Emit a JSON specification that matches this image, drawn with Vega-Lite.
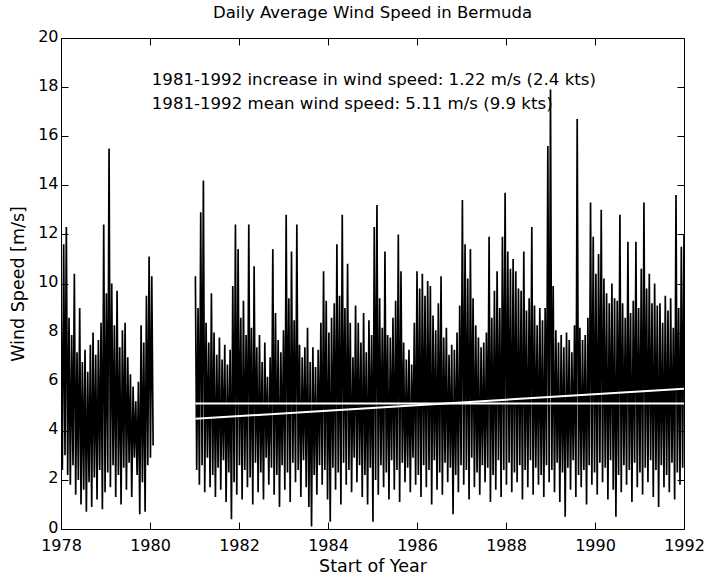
{
"$schema": "https://vega.github.io/schema/vega-lite/v6.json",
"width": 623, "height": 491,
"autosize": {"type": "none"},
"padding": {"left": 61, "top": 38, "right": 25, "bottom": 51},
"background": "white",
"title": {"text": "Daily Average Wind Speed in Bermuda", "font": "DejaVu Sans", "fontSize": 16.5, "fontWeight": "normal", "color": "black", "offset": 7},
"config": {
  "view": {"stroke": "black", "strokeWidth": 1},
  "axis": {"grid": false, "domain": false, "tickColor": "black", "tickSize": -7, "labelFont": "DejaVu Sans", "labelFontSize": 16, "labelColor": "black", "labelFlush": false, "titleFont": "DejaVu Sans", "titleFontSize": 17.5, "titleFontWeight": "normal", "titleColor": "black"}
},
"datasets": {
"pre": [
{"t":1978.00,"v":9.5},{"t":1978.03,"v":2.4},{"t":1978.06,"v":11.6},{"t":1978.09,"v":3.0},{"t":1978.12,"v":12.3},{"t":1978.15,"v":2.2},{"t":1978.18,"v":8.6},{"t":1978.21,"v":1.8},{"t":1978.24,"v":7.9},{"t":1978.27,"v":2.6},
{"t":1978.30,"v":10.4},{"t":1978.33,"v":1.4},{"t":1978.36,"v":7.2},{"t":1978.39,"v":2.0},{"t":1978.42,"v":9.0},{"t":1978.45,"v":1.0},{"t":1978.48,"v":6.8},{"t":1978.51,"v":1.6},{"t":1978.54,"v":7.3},{"t":1978.57,"v":0.7},
{"t":1978.60,"v":6.4},{"t":1978.63,"v":1.9},{"t":1978.66,"v":7.5},{"t":1978.69,"v":0.9},{"t":1978.72,"v":8.0},{"t":1978.75,"v":2.1},{"t":1978.78,"v":7.1},{"t":1978.81,"v":1.2},{"t":1978.84,"v":7.7},{"t":1978.87,"v":2.4},
{"t":1978.90,"v":8.4},{"t":1978.93,"v":0.8},{"t":1978.96,"v":12.4},{"t":1978.99,"v":1.5},{"t":1979.02,"v":9.6},{"t":1979.05,"v":2.3},{"t":1979.08,"v":15.5},{"t":1979.11,"v":1.7},{"t":1979.14,"v":10.0},{"t":1979.17,"v":2.6},
{"t":1979.20,"v":8.3},{"t":1979.23,"v":1.3},{"t":1979.26,"v":9.7},{"t":1979.29,"v":2.2},{"t":1979.32,"v":7.4},{"t":1979.35,"v":1.0},{"t":1979.38,"v":8.1},{"t":1979.41,"v":2.5},{"t":1979.44,"v":8.4},{"t":1979.47,"v":1.6},
{"t":1979.50,"v":7.0},{"t":1979.53,"v":2.7},{"t":1979.56,"v":6.3},{"t":1979.59,"v":1.3},{"t":1979.62,"v":5.8},{"t":1979.65,"v":2.9},{"t":1979.68,"v":5.2},{"t":1979.71,"v":2.2},{"t":1979.74,"v":6.0},{"t":1979.77,"v":0.6},
{"t":1979.80,"v":8.3},{"t":1979.83,"v":1.9},{"t":1979.86,"v":7.6},{"t":1979.89,"v":0.7},{"t":1979.92,"v":9.5},{"t":1979.95,"v":2.6},{"t":1979.98,"v":11.1},{"t":1980.01,"v":2.9},{"t":1980.04,"v":10.3},{"t":1980.07,"v":3.4}
],
"post": [
{"t":1981.02,"v":10.3},{"t":1981.05,"v":2.4},{"t":1981.08,"v":9.0},{"t":1981.11,"v":1.8},{"t":1981.14,"v":12.9},{"t":1981.17,"v":2.6},{"t":1981.20,"v":14.2},{"t":1981.23,"v":1.5},{"t":1981.26,"v":8.4},{"t":1981.29,"v":2.9},
{"t":1981.32,"v":7.6},{"t":1981.35,"v":1.7},{"t":1981.38,"v":9.6},{"t":1981.41,"v":2.2},{"t":1981.44,"v":8.0},{"t":1981.47,"v":1.3},{"t":1981.50,"v":7.1},{"t":1981.53,"v":2.5},{"t":1981.56,"v":7.8},{"t":1981.59,"v":1.6},
{"t":1981.62,"v":6.9},{"t":1981.65,"v":2.8},{"t":1981.68,"v":7.5},{"t":1981.71,"v":1.1},{"t":1981.74,"v":6.7},{"t":1981.77,"v":2.3},{"t":1981.80,"v":7.3},{"t":1981.83,"v":0.4},{"t":1981.86,"v":9.9},{"t":1981.89,"v":1.9},
{"t":1981.92,"v":12.4},{"t":1981.95,"v":1.4},{"t":1981.98,"v":11.4},{"t":1982.01,"v":2.6},{"t":1982.04,"v":8.6},{"t":1982.07,"v":1.2},{"t":1982.10,"v":9.3},{"t":1982.13,"v":2.4},{"t":1982.16,"v":7.9},{"t":1982.19,"v":1.7},
{"t":1982.22,"v":12.4},{"t":1982.25,"v":2.1},{"t":1982.28,"v":8.2},{"t":1982.31,"v":1.0},{"t":1982.34,"v":10.7},{"t":1982.37,"v":2.7},{"t":1982.40,"v":7.4},{"t":1982.43,"v":1.5},{"t":1982.46,"v":7.9},{"t":1982.49,"v":2.3},
{"t":1982.52,"v":6.8},{"t":1982.55,"v":1.2},{"t":1982.58,"v":7.6},{"t":1982.61,"v":2.9},{"t":1982.64,"v":6.2},{"t":1982.67,"v":1.8},{"t":1982.70,"v":7.0},{"t":1982.73,"v":2.5},{"t":1982.76,"v":11.4},{"t":1982.79,"v":1.4},
{"t":1982.82,"v":8.8},{"t":1982.85,"v":2.2},{"t":1982.88,"v":7.7},{"t":1982.91,"v":0.9},{"t":1982.94,"v":7.2},{"t":1982.97,"v":2.6},{"t":1983.00,"v":8.1},{"t":1983.03,"v":1.6},{"t":1983.06,"v":12.8},{"t":1983.09,"v":2.3},
{"t":1983.12,"v":9.4},{"t":1983.15,"v":1.1},{"t":1983.18,"v":11.3},{"t":1983.21,"v":2.7},{"t":1983.24,"v":8.5},{"t":1983.27,"v":1.9},{"t":1983.30,"v":12.4},{"t":1983.33,"v":2.4},{"t":1983.36,"v":7.5},{"t":1983.39,"v":1.3},
{"t":1983.42,"v":7.0},{"t":1983.45,"v":2.8},{"t":1983.48,"v":7.4},{"t":1983.51,"v":1.7},{"t":1983.54,"v":8.2},{"t":1983.57,"v":0.9},{"t":1983.60,"v":6.8},{"t":1983.63,"v":0.1},{"t":1983.66,"v":7.4},{"t":1983.69,"v":2.2},
{"t":1983.72,"v":6.6},{"t":1983.75,"v":1.4},{"t":1983.78,"v":7.3},{"t":1983.81,"v":2.6},{"t":1983.84,"v":8.4},{"t":1983.87,"v":1.8},{"t":1983.90,"v":10.5},{"t":1983.93,"v":2.4},{"t":1983.96,"v":9.3},{"t":1983.99,"v":1.2},
{"t":1984.02,"v":8.0},{"t":1984.05,"v":0.3},{"t":1984.08,"v":8.6},{"t":1984.11,"v":2.5},{"t":1984.14,"v":9.2},{"t":1984.17,"v":1.6},{"t":1984.20,"v":11.6},{"t":1984.23,"v":2.3},{"t":1984.26,"v":9.5},{"t":1984.29,"v":1.0},
{"t":1984.32,"v":12.8},{"t":1984.35,"v":2.7},{"t":1984.38,"v":9.0},{"t":1984.41,"v":1.8},{"t":1984.44,"v":10.8},{"t":1984.47,"v":2.4},{"t":1984.50,"v":8.4},{"t":1984.53,"v":1.5},{"t":1984.56,"v":7.0},{"t":1984.59,"v":2.9},
{"t":1984.62,"v":9.1},{"t":1984.65,"v":1.9},{"t":1984.68,"v":8.4},{"t":1984.71,"v":2.6},{"t":1984.74,"v":7.6},{"t":1984.77,"v":1.3},{"t":1984.80,"v":8.8},{"t":1984.83,"v":2.2},{"t":1984.86,"v":7.2},{"t":1984.89,"v":1.0},
{"t":1984.92,"v":8.5},{"t":1984.95,"v":2.5},{"t":1984.98,"v":7.9},{"t":1985.01,"v":0.3},{"t":1985.04,"v":12.3},{"t":1985.07,"v":2.0},{"t":1985.10,"v":13.2},{"t":1985.13,"v":1.4},{"t":1985.16,"v":9.4},{"t":1985.19,"v":2.6},
{"t":1985.22,"v":8.2},{"t":1985.25,"v":1.7},{"t":1985.28,"v":11.3},{"t":1985.31,"v":2.3},{"t":1985.34,"v":7.9},{"t":1985.37,"v":1.2},{"t":1985.40,"v":7.8},{"t":1985.43,"v":2.8},{"t":1985.46,"v":8.6},{"t":1985.49,"v":1.6},
{"t":1985.52,"v":9.3},{"t":1985.55,"v":2.4},{"t":1985.58,"v":12.0},{"t":1985.61,"v":1.1},{"t":1985.64,"v":10.5},{"t":1985.67,"v":2.7},{"t":1985.70,"v":7.6},{"t":1985.73,"v":1.9},{"t":1985.76,"v":6.9},{"t":1985.79,"v":2.5},
{"t":1985.82,"v":7.3},{"t":1985.85,"v":1.5},{"t":1985.88,"v":6.7},{"t":1985.91,"v":2.9},{"t":1985.94,"v":8.4},{"t":1985.97,"v":1.8},{"t":1986.00,"v":10.5},{"t":1986.03,"v":2.2},{"t":1986.06,"v":9.8},{"t":1986.09,"v":1.3},
{"t":1986.12,"v":10.4},{"t":1986.15,"v":2.6},{"t":1986.18,"v":9.5},{"t":1986.21,"v":1.7},{"t":1986.24,"v":10.1},{"t":1986.27,"v":2.4},{"t":1986.30,"v":9.9},{"t":1986.33,"v":1.0},{"t":1986.36,"v":8.7},{"t":1986.39,"v":2.8},
{"t":1986.42,"v":8.1},{"t":1986.45,"v":1.6},{"t":1986.48,"v":9.2},{"t":1986.51,"v":2.3},{"t":1986.54,"v":10.3},{"t":1986.57,"v":1.4},{"t":1986.60,"v":7.8},{"t":1986.63,"v":2.7},{"t":1986.66,"v":8.2},{"t":1986.69,"v":1.9},
{"t":1986.72,"v":7.1},{"t":1986.75,"v":2.5},{"t":1986.78,"v":7.5},{"t":1986.81,"v":0.6},{"t":1986.84,"v":7.3},{"t":1986.87,"v":2.2},{"t":1986.90,"v":8.0},{"t":1986.93,"v":1.5},{"t":1986.96,"v":9.1},{"t":1986.99,"v":2.6},
{"t":1987.02,"v":13.4},{"t":1987.05,"v":1.8},{"t":1987.08,"v":11.6},{"t":1987.11,"v":2.4},{"t":1987.14,"v":10.2},{"t":1987.17,"v":1.2},{"t":1987.20,"v":11.4},{"t":1987.23,"v":2.9},{"t":1987.26,"v":9.4},{"t":1987.29,"v":1.7},
{"t":1987.32,"v":8.3},{"t":1987.35,"v":2.3},{"t":1987.38,"v":7.8},{"t":1987.41,"v":1.4},{"t":1987.44,"v":7.4},{"t":1987.47,"v":2.6},{"t":1987.50,"v":7.6},{"t":1987.53,"v":1.9},{"t":1987.56,"v":8.0},{"t":1987.59,"v":2.5},
{"t":1987.62,"v":11.9},{"t":1987.65,"v":1.1},{"t":1987.68,"v":8.6},{"t":1987.71,"v":2.2},{"t":1987.74,"v":9.7},{"t":1987.77,"v":1.6},{"t":1987.80,"v":10.5},{"t":1987.83,"v":2.8},{"t":1987.86,"v":9.0},{"t":1987.89,"v":1.3},
{"t":1987.92,"v":11.9},{"t":1987.95,"v":2.4},{"t":1987.98,"v":13.7},{"t":1988.01,"v":1.8},{"t":1988.04,"v":11.3},{"t":1988.07,"v":2.7},{"t":1988.10,"v":10.6},{"t":1988.13,"v":1.5},{"t":1988.16,"v":11.0},{"t":1988.19,"v":2.3},
{"t":1988.22,"v":10.5},{"t":1988.25,"v":1.9},{"t":1988.28,"v":9.8},{"t":1988.31,"v":2.6},{"t":1988.34,"v":9.7},{"t":1988.37,"v":1.2},{"t":1988.40,"v":11.3},{"t":1988.43,"v":2.4},{"t":1988.46,"v":8.9},{"t":1988.49,"v":1.7},
{"t":1988.52,"v":9.4},{"t":1988.55,"v":2.8},{"t":1988.58,"v":12.3},{"t":1988.61,"v":1.4},{"t":1988.64,"v":9.1},{"t":1988.67,"v":2.5},{"t":1988.70,"v":8.3},{"t":1988.73,"v":1.8},{"t":1988.76,"v":9.0},{"t":1988.79,"v":2.2},
{"t":1988.82,"v":8.5},{"t":1988.85,"v":1.3},{"t":1988.88,"v":9.0},{"t":1988.91,"v":2.6},{"t":1988.94,"v":15.6},{"t":1988.97,"v":1.9},{"t":1989.00,"v":17.9},{"t":1989.03,"v":2.4},{"t":1989.06,"v":9.9},{"t":1989.09,"v":1.5},
{"t":1989.12,"v":8.1},{"t":1989.15,"v":2.7},{"t":1989.18,"v":7.6},{"t":1989.21,"v":1.1},{"t":1989.24,"v":7.9},{"t":1989.27,"v":2.3},{"t":1989.30,"v":7.4},{"t":1989.33,"v":0.5},{"t":1989.36,"v":8.0},{"t":1989.39,"v":2.5},
{"t":1989.42,"v":7.7},{"t":1989.45,"v":1.6},{"t":1989.48,"v":7.2},{"t":1989.51,"v":2.8},{"t":1989.54,"v":8.3},{"t":1989.57,"v":1.3},{"t":1989.60,"v":16.7},{"t":1989.63,"v":2.2},{"t":1989.66,"v":8.2},{"t":1989.69,"v":1.7},
{"t":1989.72,"v":7.7},{"t":1989.75,"v":2.4},{"t":1989.78,"v":7.9},{"t":1989.81,"v":1.0},{"t":1989.84,"v":8.6},{"t":1989.87,"v":2.6},{"t":1989.90,"v":13.3},{"t":1989.93,"v":1.8},{"t":1989.96,"v":11.9},{"t":1989.99,"v":2.3},
{"t":1990.02,"v":10.4},{"t":1990.05,"v":1.4},{"t":1990.08,"v":11.2},{"t":1990.11,"v":2.7},{"t":1990.14,"v":13.0},{"t":1990.17,"v":1.9},{"t":1990.20,"v":10.2},{"t":1990.23,"v":2.5},{"t":1990.26,"v":9.6},{"t":1990.29,"v":1.2},
{"t":1990.32,"v":9.2},{"t":1990.35,"v":2.8},{"t":1990.38,"v":10.0},{"t":1990.41,"v":1.6},{"t":1990.44,"v":9.4},{"t":1990.47,"v":0.5},{"t":1990.50,"v":9.3},{"t":1990.53,"v":2.2},{"t":1990.56,"v":12.8},{"t":1990.59,"v":1.5},
{"t":1990.62,"v":9.2},{"t":1990.65,"v":2.6},{"t":1990.68,"v":8.6},{"t":1990.71,"v":1.8},{"t":1990.74,"v":11.7},{"t":1990.77,"v":2.4},{"t":1990.80,"v":8.8},{"t":1990.83,"v":1.1},{"t":1990.86,"v":9.3},{"t":1990.89,"v":2.7},
{"t":1990.92,"v":11.7},{"t":1990.95,"v":1.7},{"t":1990.98,"v":9.0},{"t":1991.01,"v":2.3},{"t":1991.04,"v":10.6},{"t":1991.07,"v":1.4},{"t":1991.10,"v":13.3},{"t":1991.13,"v":2.5},{"t":1991.16,"v":9.8},{"t":1991.19,"v":1.9},
{"t":1991.22,"v":10.4},{"t":1991.25,"v":2.8},{"t":1991.28,"v":9.2},{"t":1991.31,"v":1.3},{"t":1991.34,"v":10.0},{"t":1991.37,"v":2.4},{"t":1991.40,"v":9.1},{"t":1991.43,"v":0.9},{"t":1991.46,"v":9.2},{"t":1991.49,"v":2.6},
{"t":1991.52,"v":8.4},{"t":1991.55,"v":1.7},{"t":1991.58,"v":9.5},{"t":1991.61,"v":2.2},{"t":1991.64,"v":8.9},{"t":1991.67,"v":1.5},{"t":1991.70,"v":9.4},{"t":1991.73,"v":2.7},{"t":1991.76,"v":8.2},{"t":1991.79,"v":1.2},
{"t":1991.82,"v":13.6},{"t":1991.85,"v":2.3},{"t":1991.88,"v":9.0},{"t":1991.91,"v":1.8},{"t":1991.94,"v":11.5},{"t":1991.97,"v":2.5},{"t":1992.00,"v":12.0}
],
"fit": [
{"t":1981.02,"trend":4.49,"mean":5.11},{"t":1992.0,"trend":5.71,"mean":5.11}
],
"notes": [
{"t":1980.04,"v":18.09,"label":"1981-1992 increase in wind speed: 1.22 m/s (2.4 kts)"},
{"t":1980.04,"v":17.1,"label":"1981-1992 mean wind speed: 5.11 m/s (9.9 kts)"}
]
},
"layer": [
{"data": {"name": "pre"}, "mark": {"type": "line", "color": "black", "strokeWidth": 1.7, "clip": true},
 "encoding": {
  "x": {"field": "t", "type": "quantitative", "scale": {"domain": [1978, 1992], "nice": false, "zero": false},
        "axis": {"orient": "bottom", "values": [1978,1980,1982,1984,1986,1988,1990,1992], "format": "d", "title": "Start of Year", "labelPadding": 15, "titlePadding": 4}},
  "y": {"field": "v", "type": "quantitative", "scale": {"domain": [0, 20], "nice": false},
        "axis": {"orient": "left", "values": [0,2,4,6,8,10,12,14,16,18,20], "title": "Wind Speed [m/s]", "labelPadding": 10, "labelOffset": -2, "titlePadding": 10}}
 }},
{"data": {"name": "post"}, "mark": {"type": "line", "color": "black", "strokeWidth": 1.7, "clip": true},
 "encoding": {
  "x": {"field": "t", "type": "quantitative", "axis": null},
  "y": {"field": "v", "type": "quantitative", "axis": null}
 }},
{"data": {"name": "fit"}, "mark": {"type": "line", "color": "white", "strokeWidth": 2},
 "encoding": {
  "x": {"field": "t", "type": "quantitative",
        "axis": {"orient": "top", "values": [1978,1980,1982,1984,1986,1988,1990,1992], "labels": false, "title": null}},
  "y": {"field": "mean", "type": "quantitative",
        "axis": {"orient": "right", "values": [0,2,4,6,8,10,12,14,16,18,20], "labels": false, "title": null}}
 }},
{"data": {"name": "fit"}, "mark": {"type": "line", "color": "white", "strokeWidth": 2},
 "encoding": {
  "x": {"field": "t", "type": "quantitative", "axis": null},
  "y": {"field": "trend", "type": "quantitative", "axis": null}
 }},
{"data": {"name": "notes"}, "mark": {"type": "text", "align": "left", "baseline": "alphabetic", "font": "DejaVu Sans", "fontSize": 16.6, "color": "black"},
 "encoding": {
  "x": {"field": "t", "type": "quantitative", "axis": null},
  "y": {"field": "v", "type": "quantitative", "axis": null},
  "text": {"field": "label"}
 }}
],
"resolve": {"axis": {"x": "independent", "y": "independent"}}
}
